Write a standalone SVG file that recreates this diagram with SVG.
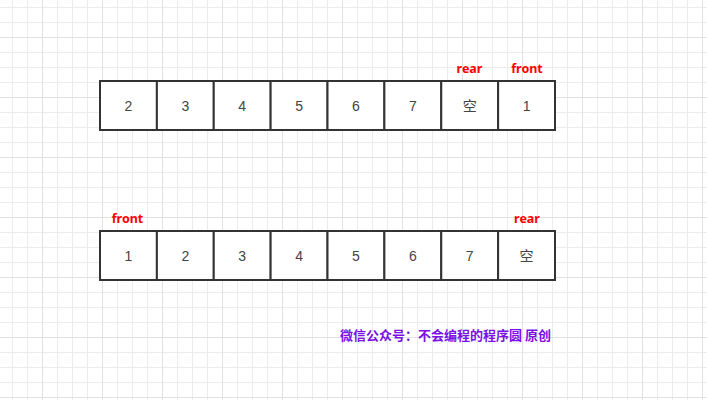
<svg xmlns="http://www.w3.org/2000/svg" width="707" height="400" viewBox="0 0 707 400">
<defs>
<pattern id="minor" x="12" y="7" width="15" height="15" patternUnits="userSpaceOnUse">
<path d="M0.5 0V15M0 0.5H15" fill="none" stroke="#ececec" stroke-width="1"/>
</pattern>
<pattern id="major" x="42" y="37" width="60" height="60" patternUnits="userSpaceOnUse">
<path d="M0.5 0V60M0 0.5H60" fill="none" stroke="#e2e2e2" stroke-width="1"/>
</pattern>
<style>
.cell{fill:#ffffff;stroke:#333333;stroke-width:2}
.num{font-family:"Liberation Sans","Noto Sans CJK SC",sans-serif;font-size:14px;fill:#444444;text-anchor:middle}
.lbl{font-family:"Noto Sans","Liberation Sans",sans-serif;font-size:12.5px;font-weight:bold;fill:#ff0000;text-anchor:middle}
.wm{font-family:"Noto Sans CJK SC",sans-serif;font-size:13px;font-weight:bold;fill:#7a10e6}
</style>
</defs>
<rect width="707" height="400" fill="#ffffff"/>
<rect width="707" height="400" fill="url(#minor)"/>
<rect width="707" height="400" fill="url(#major)"/>

<g id="row1">
<g id="r1c1"><rect class="cell" x="100" y="81" width="56.875" height="49"/><text class="num" x="128.4" y="111">2</text></g>
<g id="r1c2"><rect class="cell" x="156.875" y="81" width="56.875" height="49"/><text class="num" x="185.3" y="111">3</text></g>
<g id="r1c3"><rect class="cell" x="213.75" y="81" width="56.875" height="49"/><text class="num" x="242.2" y="111">4</text></g>
<g id="r1c4"><rect class="cell" x="270.625" y="81" width="56.875" height="49"/><text class="num" x="299.1" y="111">5</text></g>
<g id="r1c5"><rect class="cell" x="327.5" y="81" width="56.875" height="49"/><text class="num" x="355.9" y="111">6</text></g>
<g id="r1c6"><rect class="cell" x="384.375" y="81" width="56.875" height="49"/><text class="num" x="412.8" y="111">7</text></g>
<g id="r1c7"><rect class="cell" x="441.25" y="81" width="56.875" height="49"/><text class="num" x="469.7" y="111">空</text></g>
<g id="r1c8"><rect class="cell" x="498.125" y="81" width="56.875" height="49"/><text class="num" x="526.6" y="111">1</text></g>
</g>

<g id="row2">
<g id="r2c1"><rect class="cell" x="100" y="231" width="56.875" height="49"/><text class="num" x="128.4" y="261">1</text></g>
<g id="r2c2"><rect class="cell" x="156.875" y="231" width="56.875" height="49"/><text class="num" x="185.3" y="261">2</text></g>
<g id="r2c3"><rect class="cell" x="213.75" y="231" width="56.875" height="49"/><text class="num" x="242.2" y="261">3</text></g>
<g id="r2c4"><rect class="cell" x="270.625" y="231" width="56.875" height="49"/><text class="num" x="299.1" y="261">4</text></g>
<g id="r2c5"><rect class="cell" x="327.5" y="231" width="56.875" height="49"/><text class="num" x="355.9" y="261">5</text></g>
<g id="r2c6"><rect class="cell" x="384.375" y="231" width="56.875" height="49"/><text class="num" x="412.8" y="261">6</text></g>
<g id="r2c7"><rect class="cell" x="441.25" y="231" width="56.875" height="49"/><text class="num" x="469.7" y="261">7</text></g>
<g id="r2c8"><rect class="cell" x="498.125" y="231" width="56.875" height="49"/><text class="num" x="526.6" y="261">空</text></g>
</g>

<g id="labels">
<text class="lbl" x="469.5" y="72.5">rear</text>
<text class="lbl" x="527" y="72.5">front</text>
<text class="lbl" x="127.5" y="222.5">front</text>
<text class="lbl" x="527" y="222.5">rear</text>
</g>

<g id="connectors"></g>

<text class="wm" x="340" y="339.5">微信公众号：不会编程的程序圆 原创</text>
</svg>
